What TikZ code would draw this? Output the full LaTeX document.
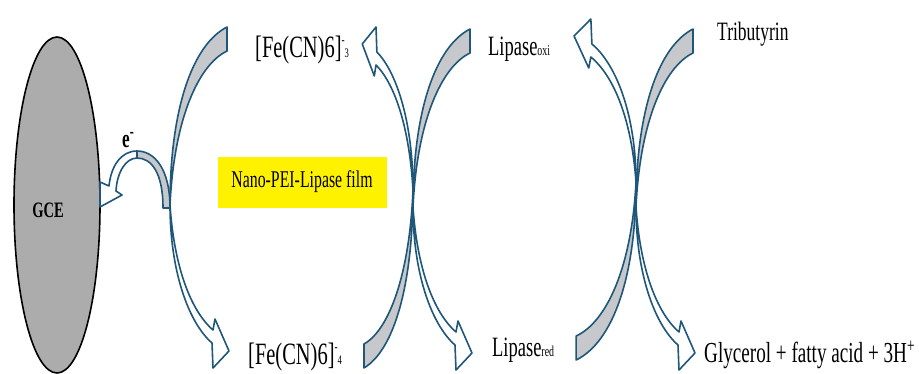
\documentclass[tikz,border=0pt]{standalone}
\usepackage{fontspec}
\setmainfont{Liberation Serif}
\newfontfamily\narrowfont{Liberation Serif}[FakeStretch=0.66]
\usetikzlibrary{positioning,shapes.geometric}

\definecolor{arrowblue}{RGB}{31,87,122}
\definecolor{bandgray}{RGB}{199,200,204}
\definecolor{gcegray}{RGB}{172,172,172}

\newcommand{\txtsize}[1]{\fontsize{#1}{#1}\selectfont}

\tikzstyle{band} = [fill=bandgray,draw=arrowblue,line width=1.6pt,line join=round]
\tikzstyle{hollow} = [fill=white,draw=arrowblue,line width=1.6pt,line join=round]
\tikzstyle{txt} = [inner sep=0pt,anchor=base west,font=\narrowfont]

%% one "(" half-cycle, crossing point at the origin
\newcommand{\upband}{(0,0) .. controls (0,-95) and (22,-160) .. (57,-178) -- (57,-154)
  .. controls (28,-140) and (4,-85) .. (0,0) -- cycle}
\newcommand{\downshaft}{(0,0) .. controls (4,60) and (20,105) .. (43,125) -- (45,114)
  -- (59,146) -- (43,163) -- (42,138) .. controls (18,117) and (0,65) .. (0,0) -- cycle}

\begin{document}
\begin{tikzpicture}
      [x=1pt,y=-1pt,
      electrode/.style={ellipse,draw,line width=1.6pt,fill=gcegray,inner sep=0pt,
        minimum width=86pt,minimum height=336pt}]
      \useasboundingbox (0,0) rectangle (919,373);
      %% electrode
      \node (gce) at (57,205) [electrode] {};
      \node (gcetext) at (48,210) [font=\narrowfont\bfseries\txtsize{22}] {GCE};

      %% crossing points
      \coordinate (c1) at (170,205);
      \coordinate (c2) at (413,207);
      \coordinate (c3) at (636,207);

      %% "(" parts: gray band up, hollow arrow down
      \foreach \cross in {c1,c2,c3}
      {
        \begin{scope}[shift={(\cross)}]
          \path[band] \upband;
          \path[hollow] \downshaft;
        \end{scope}
      }
      %% ")" parts: the same turned round
      \foreach \cx/\cy/\sx in {413/190/0.86, 636/182/1.05}
      {
        \begin{scope}[shift={(\cx,\cy)},rotate=180,xscale=\sx]
          \path[band] \upband;
          \path[hollow] \downshaft;
        \end{scope}
      }

      %% electron transfer to the electrode
      \path[hollow] (137,151) .. controls (121,151) and (111,166) .. (109,186) -- (100,182)
        -- (100,207) -- (122,195) -- (116,191) .. controls (117,172) and (126,158) .. (137,158) -- cycle;
      \path[band] (170,208) .. controls (170,168) and (154,151) .. (137,151) -- (137,158)
        .. controls (151,158) and (163,172) .. (163,208) -- cycle;
      \node (elec) at (122,147) [txt,font=\narrowfont\bfseries\txtsize{26}] {e\textsuperscript{-}};

      %% film
      \node (film) at (302,182) [fill=yellow,minimum width=169pt,minimum height=51pt,
        font=\narrowfont\txtsize{24}] {Nano-PEI-Lipase film};

      %% species
      \node (fe3) at (255,57) [txt,font=\narrowfont\txtsize{31}]
        {[Fe(CN)6]\raisebox{0.9ex}{\txtsize{14}-}{\txtsize{13}3}};
      \node (fe4) at (248,364) [txt,font=\narrowfont\txtsize{31}]
        {[Fe(CN)6]\raisebox{0.9ex}{\txtsize{14}-}{\txtsize{13}4}};
      \node (lipoxi) at (488,55) [txt,font=\narrowfont\txtsize{28}] {Lipase{\txtsize{15}oxi}};
      \node (lipred) at (492,356) [txt,font=\narrowfont\txtsize{28}] {Lipase{\txtsize{15}red}};
      \node (trib) at (717,40) [txt,font=\narrowfont\txtsize{26.5}] {Tributyrin};
      \node (glyc) at (704,362) [txt,font=\narrowfont\txtsize{29}] {Glycerol + fatty acid + 3H\textsuperscript{+}};
    \end{tikzpicture}
\end{document}
